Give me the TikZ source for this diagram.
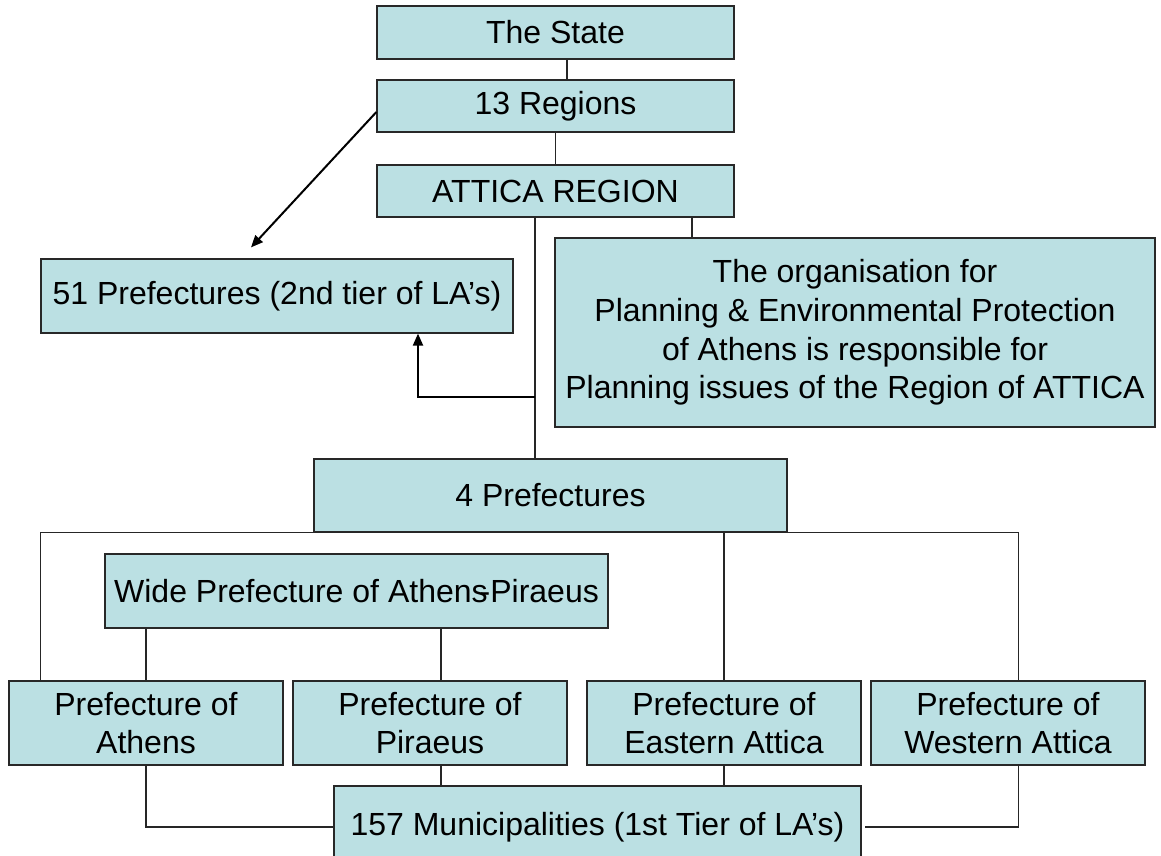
\documentclass[tikz,border=0pt]{standalone}
\usepackage{fontspec}
\setmainfont{Liberation Sans}
\usetikzlibrary{arrows.meta,calc}
\definecolor{boxfill}{RGB}{187,224,227}
\definecolor{boxedge}{RGB}{40,40,40}
\begin{document}
\begin{tikzpicture}[x=0.75pt,y=-0.75pt,
  box/.style={draw=boxedge,line width=0.9pt,fill=boxfill,inner sep=0pt,align=center,
    font=\fontsize{24}{29}\selectfont},
  wh/.style 2 args={minimum width=#1*0.75pt,minimum height=#2*0.75pt},
  link/.style={draw=black!85,line width=0.8pt},
  arrowlink/.style={draw=black,line width=1.5pt,-{Triangle[length=9pt,width=7.5pt]}}]
\fill[white] (0,0) rectangle (1161,856);
\clip (0,0) rectangle (1161,856);

% hierarchy boxes
\node[box,wh={357}{53}] (state)   at (555.5,32.5) {The State};
\node[box,wh={357}{52}] (regions) at (555.5,106)  {13 Regions};
\node[box,wh={357}{52}] (attica)  at (555.5,191)  {ATTICA REGION};
\node[box,wh={472}{74}] (pref51)  at (277,296)    {51 Prefectures (2nd tier of LA’s)};
\node[box,wh={600}{189}] (org)    at (855,332.5)
  {The organisation for\\Planning \& Environmental Protection\\of Athens is responsible for\\Planning issues of the Region of ATTICA};
\node[box,wh={473}{73}] (pref4)   at (550.5,495.5) {4 Prefectures};
\node[box,wh={503}{74}] (wide)    at (356.5,591)  {Wide Prefecture of Athens\kern-.25em-Piraeus};
\node[box,wh={274}{84}] (athens)  at (146,723)  {Prefecture of\\Athens};
\node[box,wh={274}{84}] (piraeus) at (430,723)  {Prefecture of\\Piraeus};
\node[box,wh={274}{84}] (eastern) at (724,723)  {Prefecture of\\Eastern Attica};
\node[box,wh={274}{84}] (western) at (1008,723) {Prefecture of\\Western Attica};
\node[box,wh={527}{82}] (muni)    at (597.5,827) {157 Municipalities (1st Tier of LA’s)};

% upper connectors
\draw[link] ($(state.south)+(11.5,0)$) -- ($(regions.north)+(11.5,0)$);
\draw[link] (regions.south) -- (attica.north);
\coordinate (a1) at ($(attica.south)+(-20.5,0)$);
\coordinate (a2) at ($(attica.south)+(136.5,0)$);
\draw[link] (a1) -- (a1 |- pref4.north);
\draw[link] (a2) -- (a2 |- org.north);

% arrows to the 51 prefectures
\coordinate (d1) at ($(pref51.north)+(-26,-11)$);
\draw[arrowlink] ($(regions.west)+(0,6)$) -- (d1);
\coordinate (e1) at ($(a1)+(0,179)$);
\draw[arrowlink] (e1) -| ($(pref51.south)+(141,0)$);

% bus under the 4 prefectures
\coordinate (bl) at ($(pref4.south west)+(-273,0)$);
\coordinate (br) at ($(pref4.south east)+(231,0)$);
\draw[link] (athens.north -| bl) -- (bl) -- (br) -- (western.north -| br);
\draw[link] (eastern.north) -- (eastern.north |- pref4.south);

% wide prefecture to its two parts
\coordinate (w2) at ($(wide.south)+(84.5,0)$);
\draw[link] (athens.north |- wide.south) -- (athens.north);
\draw[link] (w2) -- (w2 |- piraeus.north);

% prefectures to municipalities
\draw[link] (athens.south) |- (muni.west);
\draw[link] (piraeus.south -| w2) -- (muni.north -| w2);
\draw[link] (eastern.south) -- (eastern.south |- muni.north);
\draw[link] (western.south -| br) |- ($(muni.east)+(3,0)$);
\end{tikzpicture}
\end{document}
